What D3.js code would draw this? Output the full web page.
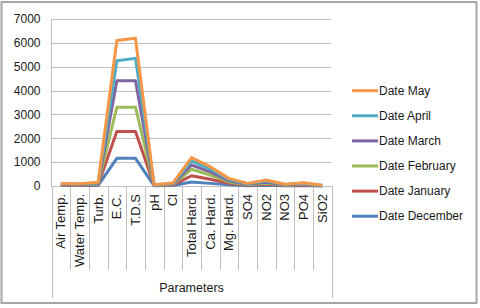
<!DOCTYPE html>
<html><head><meta charset="utf-8">
<script src="https://cdn.jsdelivr.net/npm/d3@7"></script>
<style>body{margin:0;background:#fff}svg{display:block;font-family:"Liberation Sans",Arial,sans-serif}</style>
</head><body><svg id="c" width="480" height="308"></svg>
<script>
const categories = ["Air Temp.","Water Temp.","Turb.","E.C.","T.D.S","pH","Cl","Total Hard.","Ca. Hard.","Mg. Hard.","SO4","NO2","NO3","PO4","SiO2"];
const seriesNames = ["Date December","Date January","Date February","Date March","Date April","Date May"];
const december = [18,16,25,1160,1160,8,20,170,110,50,15,30,10,20,5];
const january  = [18,16,25,1120,1120,8,20,260,170,60,20,40,10,25,5];
const february = [18,16,25,1020,1020,8,20,270,180,60,20,40,15,25,5];
const march    = [18,16,25,1110,1110,8,20,180,130,50,20,50,10,25,5];
const april    = [18,16,30,840,940,8,20,170,120,50,20,50,15,25,5];
const may      = [18,16,30,850,840,8,25,140,100,50,15,40,10,20,5];
const yTicks = [0,1000,2000,3000,4000,5000,6000,7000];
const axisTitle = "Parameters";
const colors = ["#4F81BD","#C0504D","#9BBB59","#8064A2","#4BACC6","#F79646"];

const seriesValues = [december,january,february,march,april,may];
const rows = categories.map((c,i)=>{const r={cat:c}; seriesNames.forEach((s,j)=>r[s]=seriesValues[j][i]); return r;});
const stacked = d3.stack().keys(seriesNames)(rows);

const svg = d3.select("#c");
svg.append("rect").attr("x",1.5).attr("y",2).attr("width",475).attr("height",301)
  .attr("fill","#fff").attr("stroke","#a6a6a6").attr("stroke-width",2);

const L=51.5, R=331.5, T=19, B=186;
const x = d3.scaleBand().domain(categories).range([L,R]);
const y = d3.scaleLinear().domain([0,7000]).range([B,T]);

// gridlines
svg.append("g").selectAll("line").data(yTicks).join("line")
  .attr("x1",L).attr("x2",R).attr("y1",d=>Math.round(y(d))+0.5).attr("y2",d=>Math.round(y(d))+0.5)
  .attr("stroke","#bfbfbf").attr("stroke-width",1);

// y axis
const ya = svg.append("g").attr("transform",`translate(${L},0)`)
  .call(d3.axisLeft(y).tickValues(yTicks).tickSize(0).tickPadding(11).tickFormat(d3.format("d")));
ya.select(".domain").attr("stroke","#bfbfbf").attr("d",`M0,${T}V${B}`);
ya.selectAll("text").attr("font-size","12px").attr("fill","#1a1a1a").attr("font-family","Liberation Sans, Arial, sans-serif");

// x axis
const xa = svg.append("g").attr("transform",`translate(0,${B})`)
  .call(d3.axisBottom(x).tickSize(0).tickPadding(0));
xa.select(".domain").attr("stroke","#bfbfbf").attr("d",`M${L},0.5H${R}`);
xa.selectAll(".tick text").attr("transform","rotate(-90)").attr("text-anchor","end")
  .attr("x",-8).attr("y",0).attr("dy","0.35em").attr("font-size","13px").attr("fill","#1a1a1a")
  .attr("font-family","Liberation Sans, Arial, sans-serif");

// category separators
const bounds = categories.map(c=>x(c)).concat([R]);
svg.append("g").selectAll("line").data(bounds).join("line")
  .attr("x1",d=>Math.round(d)+0.5).attr("x2",d=>Math.round(d)+0.5)
  .attr("y1",B).attr("y2",(d,i)=> (i===0||i===bounds.length-1)?298:270)
  .attr("stroke","#bfbfbf").attr("stroke-width",1);

svg.append("text").attr("x",(L+R)/2).attr("y",288).attr("dy","0.35em").attr("text-anchor","middle")
  .attr("font-size","12.5px").attr("fill","#1a1a1a").text(axisTitle);

// lines
const line = d3.line().x((d,i)=>x(categories[i])+x.bandwidth()/2).y(d=>y(d[1]));
svg.append("g").selectAll("path").data(stacked).join("path")
  .attr("d",d=>line(d)).attr("fill","none").attr("stroke",(d,i)=>colors[i])
  .attr("stroke-width",3).attr("stroke-linejoin","round");

// legend (reverse order)
const lg = svg.append("g");
const order = seriesNames.map((s,i)=>i).reverse();
order.forEach((si,k)=>{
  const yy = 90.7 + k*25.1;
  lg.append("line").attr("x1",352).attr("x2",378).attr("y1",yy).attr("y2",yy)
    .attr("stroke",colors[si]).attr("stroke-width",3);
  lg.append("text").attr("x",379).attr("y",yy).attr("dy","0.35em").attr("font-size","12px")
    .attr("fill","#1a1a1a").text(seriesNames[si]);
});
</script></body></html>
